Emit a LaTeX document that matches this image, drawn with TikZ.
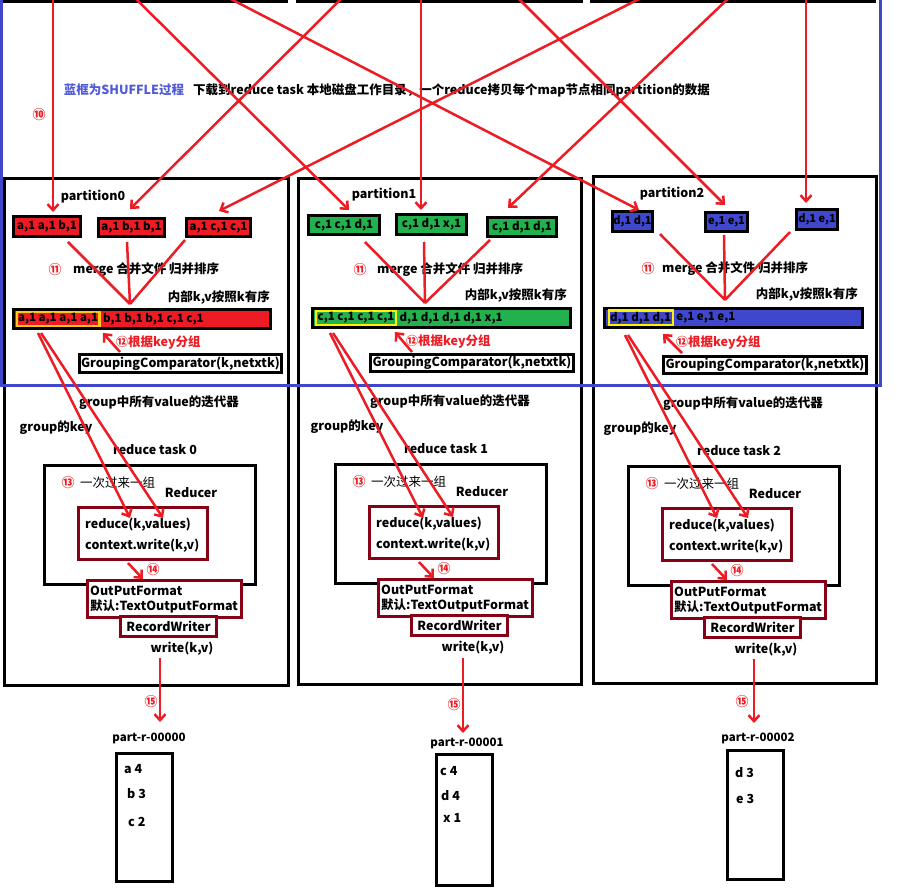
\documentclass[tikz,border=0pt]{standalone}
\usepackage{fontspec}
\setmainfont{Noto Sans CJK SC}
\usetikzlibrary{arrows.meta}
\definecolor{pred}{RGB}{237,28,36}
\definecolor{pgreen}{RGB}{34,177,76}
\definecolor{pblue}{RGB}{63,72,204}
\definecolor{ptext}{RGB}{80,90,215}
\definecolor{pyellow}{RGB}{255,242,0}
\definecolor{porange}{RGB}{255,201,14}
\definecolor{pdark}{RGB}{136,0,21}
\tikzset{
  lab/.style={inner sep=0pt, font=\bfseries\fontsize{12.5}{14}\selectfont},
  labw/.style={lab, anchor=west},
  labe/.style={lab, anchor=east},
  num/.style={inner sep=0pt, text=pred, font=\bfseries\fontsize{13}{13}\selectfont},
  rline/.style={draw=pred, line width=2.5pt},
  rarrow/.style={rline, -{Straight Barb[length=6pt,width=11pt]}},
  bigbox/.style={draw=black, line width=3pt},
  kv/.style={draw=black, line width=3pt, inner sep=0pt, font=\bfseries\fontsize{11.5}{12}\selectfont},
  grp/.style={line width=2.2pt, inner sep=1.5pt, font=\bfseries\fontsize{11.5}{12}\selectfont, anchor=west},
  darkbox/.style={draw=pdark, line width=3pt, fill=white},
  outbox/.style={draw=black, line width=2.5pt}
}
\begin{document}
\begin{tikzpicture}[x=1pt,y=-1pt]
\useasboundingbox (0,0) rectangle (897,890);
\fill[white] (0,0) rectangle (897,890);

% map output boxes cut at the top
\node[bigbox, minimum width=282pt, minimum height=20pt] (map0) at (145.5,-8) {};
\node[bigbox, minimum width=284pt, minimum height=20pt] (map1) at (439,-8) {};
\node[bigbox, minimum width=283pt, minimum height=20pt] (map2) at (732.5,-8) {};
\foreach \xx in {63,143,203,358,437,497,652,730,790}
  \draw[line width=1.5pt] (\xx,-20) -- (\xx,1);

% partition / reduce task frames
\node[bigbox, minimum width=284pt, minimum height=507pt] (P0) at (146.5,432) {};
\node[bigbox, minimum width=283pt, minimum height=506pt] (P1) at (440,431.5) {};
\node[bigbox, minimum width=283pt, minimum height=507pt] (P2) at (735,430) {};

% shuffle frame
\draw[draw=pblue, line width=3pt] (1,-10) rectangle (880,386);
\node[lab, text=ptext] (shf) at (124,90) {蓝框为SHUFFLE过程};
\node[labw] (dl) at (193,90) {下载到reduce task 本地磁盘工作目录，一个reduce拷贝每个map节点相同partition的数据};
\node[num] (c10) at (39,115) {⑩};

% ---------- partition 0 ----------
\node[lab] (pt0) at (93,197) {partition0};
\node[kv, fill=pred, minimum width=67pt, minimum height=20pt] (k0a) at (47,226.5) {a,1 a,1 b,1};
\node[kv, fill=pred, minimum width=66pt, minimum height=18pt] (k0b) at (131.5,227.5) {a,1 b,1 b,1};
\node[kv, fill=pred, minimum width=64pt, minimum height=18pt] (k0c) at (218.5,227.5) {a,1 c,1 c,1};
\node[num] (c110) at (55,270) {⑪};
\node[labw] (mg0) at (73,270) {merge 合并文件 归并排序};
\node[labe] (in0) at (270,298) {内部k,v按照k有序};
\node[kv, fill=pred, minimum width=257pt, minimum height=19pt] (bar0) at (142,319) {};
\node[grp, draw=porange] (g0) at (15.5,319) {a,1 a,1 a,1 a,1};
\node[grp] (r0) at (g0.east) {b,1 b,1 b,1 c,1 c,1};
\node[labw, text=pred] (kg0) at (116,342) {{\fontsize{12}{12}\selectfont ⑫}根据key分组};
\node[lab, draw=black, line width=2.5pt, inner sep=0pt, minimum width=202pt, minimum height=18pt] (gc0) at (180.5,363.5) {GroupingComparator(k,netxtk)};

% ---------- partition 1 ----------
\node[lab] (pt1) at (384,195) {partition1};
\node[kv, fill=pgreen, minimum width=71pt, minimum height=19pt] (k1a) at (344,225) {c,1 c,1 d,1};
\node[kv, fill=pgreen, minimum width=70pt, minimum height=20pt] (k1b) at (431.5,224.5) {c,1 d,1 x,1};
\node[kv, fill=pgreen, minimum width=69pt, minimum height=19pt] (k1c) at (522,227) {c,1 d,1 d,1};
\node[num] (c111) at (360,270) {⑪};
\node[labw] (mg1) at (377,270) {merge 合并文件 归并排序};
\node[labe] (in1) at (567,296) {内部k,v按照k有序};
\node[kv, fill=pgreen, minimum width=258pt, minimum height=19pt] (bar1) at (441.5,318) {};
\node[grp, draw=pyellow] (g1) at (315,318) {c,1 c,1 c,1 c,1};
\node[grp] (r1) at (g1.east) {d,1 d,1 d,1 d,1 x,1};
\node[labw, text=pred] (kg1) at (406,341) {{\fontsize{12}{12}\selectfont ⑫}根据key分组};
\node[lab, draw=black, line width=2.5pt, inner sep=0pt, minimum width=203pt, minimum height=17pt] (gc1) at (472,363) {GroupingComparator(k,netxtk)};

% ---------- partition 2 ----------
\node[lab] (pt2) at (672,194) {partition2};
\node[kv, fill=pblue, minimum width=40pt, minimum height=20pt, font=\bfseries\fontsize{11}{12}\selectfont] (k2a) at (632.5,221.5) {d,1 d,1};
\node[kv, fill=pblue, minimum width=42pt, minimum height=19pt, font=\bfseries\fontsize{11}{12}\selectfont] (k2b) at (726.5,222) {e,1 e,1};
\node[kv, fill=pblue, minimum width=41pt, minimum height=20pt, font=\bfseries\fontsize{11}{12}\selectfont] (k2c) at (817,219.5) {d,1 e,1};
\node[num] (c112) at (648,269) {⑪};
\node[labw] (mg2) at (662,269) {merge 合并文件 归并排序};
\node[labe] (in2) at (858,295) {内部k,v按照k有序};
\node[kv, fill=pblue, minimum width=258pt, minimum height=19pt] (bar2) at (733.5,318) {};
\node[grp, draw=pyellow] (g2) at (607.5,318) {d,1 d,1 d,1};
\node[grp] (r2) at (g2.east) {e,1 e,1 e,1};
\node[labw, text=pred] (kg2) at (676,342) {{\fontsize{12}{12}\selectfont ⑫}根据key分组};
\node[lab, draw=black, line width=2.5pt, inner sep=0pt, minimum width=203pt, minimum height=17pt] (gc2) at (765,365) {GroupingComparator(k,netxtk)};

% ---------- reduce tasks ----------
\foreach \dx/\dy/\n in {0/0/0, 291/-1/1, 584/1/2}{
 \begin{scope}[shift={(\dx,\dy)}]
  \node[lab] (gv\n) at (159,403) {group中所有value的迭代器};
  \node[lab] (gk\n) at (56,428) {group的key};
  \node[lab] (rt\n) at (155,450) {reduce task \n};
  \node[bigbox, minimum width=211pt, minimum height=119pt] (rdc\n) at (150,525) {};
  \node[num] (c13\n) at (68,483) {⑬};
  \node[anchor=west, inner sep=0pt, font=\fontsize{12.5}{14}\selectfont] (once\n) at (80,483) {一次过来一组};
  \node[lab] (rcr\n) at (191,493) {Reducer};
  \node[darkbox, minimum width=129pt, minimum height=52pt] (rf\n) at (143,533.5) {};
  \node[labw] (rfa\n) at (85,525) {reduce(k,values)};
  \node[labw] (rfb\n) at (85,546) {context.write(k,v)};
  \node[num] (c14\n) at (153,570) {⑭};
  \node[darkbox, minimum width=154pt, minimum height=37pt] (of\n) at (164.5,599) {};
  \node[labw] (ofa\n) at (90,591) {OutPutFormat};
  \node[labw] (ofb\n) at (90,606) {默认:TextOutputFormat};
  \node[darkbox, lab, inner sep=0pt, minimum width=96pt, minimum height=20pt] (rw\n) at (168.5,626.5) {RecordWriter};
  \node[lab] (wr\n) at (182,649) {write(k,v)};
  \coordinate (o14a\n) at (128,563);
  \coordinate (o14b\n) at (143,579);
  \draw[rarrow] (o14a\n) -- (o14b\n);
 \end{scope}
}

% ---------- output files ----------
\node[lab, font=\bfseries\fontsize{11.5}{12}\selectfont] (pr0) at (149,738) {part-r-00000};
\node[lab, font=\bfseries\fontsize{11.5}{12}\selectfont] (pr1) at (467,743) {part-r-00001};
\node[lab, font=\bfseries\fontsize{11.5}{12}\selectfont] (pr2) at (758,738) {part-r-00002};
\node[outbox, minimum width=56pt, minimum height=128pt] (f0) at (144.5,817.5) {};
\node[outbox, minimum width=56pt, minimum height=131pt] (f1) at (464.5,820) {};
\node[outbox, minimum width=56pt, minimum height=129pt] (f2) at (755.5,815) {};
\node[labw] (f0a) at (124,769) {a 4};
\node[labw] (f0b) at (127,794) {b 3};
\node[labw] (f0c) at (128,822) {c 2};
\node[labw] (f1a) at (440,771) {c 4};
\node[labw] (f1b) at (441,796) {d 4};
\node[labw] (f1c) at (443,818) {x 1};
\node[labw] (f2a) at (735,773) {d 3};
\node[labw] (f2b) at (736,799) {e 3};
\node[num] (c150) at (151,702) {⑮};
\node[num] (c151) at (454,705) {⑮};
\node[num] (c152) at (742,702) {⑮};

% ---------- red connectors ----------
% shuffle copy lines
\coordinate (s1) at (53,-5);   \coordinate (e1) at (53,212);
\coordinate (s2) at (132,-5);  \coordinate (e2) at (349,210);
\coordinate (s3) at (223,-5);  \coordinate (e3) at (639,210);
\coordinate (s4) at (345,-5);  \coordinate (e4) at (130,209);
\coordinate (s5) at (421,-5);  \coordinate (e5) at (421,210);
\coordinate (s6) at (515,-5);  \coordinate (e6) at (725,205);
\coordinate (s7) at (647,-5);  \coordinate (e7) at (219,211);
\coordinate (s8) at (732,-5);  \coordinate (e8) at (508,208);
\coordinate (s9) at (806,-5);  \coordinate (e9) at (806,203);
\foreach \i in {1,...,9} \draw[rarrow] (s\i) -- (e\i);

% merge lines
\coordinate (m0) at (130,304);
\coordinate (m0a) at (68,242); \coordinate (m0b) at (127,242); \coordinate (m0c) at (185,240);
\draw[rline] (m0a) -- (m0) (m0b) -- (m0) (m0c) -- (m0);
\coordinate (m1) at (425,303);
\coordinate (m1a) at (365,242); \coordinate (m1b) at (424,242); \coordinate (m1c) at (490,240);
\draw[rline] (m1a) -- (m1) (m1b) -- (m1) (m1c) -- (m1);
\coordinate (m2) at (725,300);
\coordinate (m2a) at (660,234); \coordinate (m2b) at (724,235); \coordinate (m2c) at (790,232);
\draw[rline] (m2a) -- (m2) (m2b) -- (m2) (m2c) -- (m2);

% grouping comparator arrows
\coordinate (q0a) at (120,352); \coordinate (q0b) at (103,333);
\coordinate (q1a) at (412,352); \coordinate (q1b) at (395,332);
\coordinate (q2a) at (682,353); \coordinate (q2b) at (663,334);
\draw[rarrow] (q0a) -- (q0b);
\draw[rarrow] (q1a) -- (q1b);
\draw[rarrow] (q2a) -- (q2b);

% group to reducer
\coordinate (u0) at (38,333); \coordinate (u0k) at (130,518); \coordinate (u0v) at (163,518);
\coordinate (u1) at (330,333); \coordinate (u1k) at (423,518); \coordinate (u1v) at (453,517);
\coordinate (u2) at (625,335); \coordinate (u2k) at (717,518); \coordinate (u2v) at (748,518);
\foreach \i in {0,1,2}{
  \draw[rarrow] (u\i) -- (u\i k);
  \draw[rarrow] ([xshift=3pt]u\i) -- (u\i v);
}

% write to files
\coordinate (w0s) at (160,658); \coordinate (w0e) at (160,722);
\coordinate (w1s) at (463,658); \coordinate (w1e) at (463,733);
\coordinate (w2s) at (754,659); \coordinate (w2e) at (754,723);
\draw[rarrow] (w0s) -- (w0e);
\draw[rarrow] (w1s) -- (w1e);
\draw[rarrow] (w2s) -- (w2e);
\end{tikzpicture}
\end{document}
